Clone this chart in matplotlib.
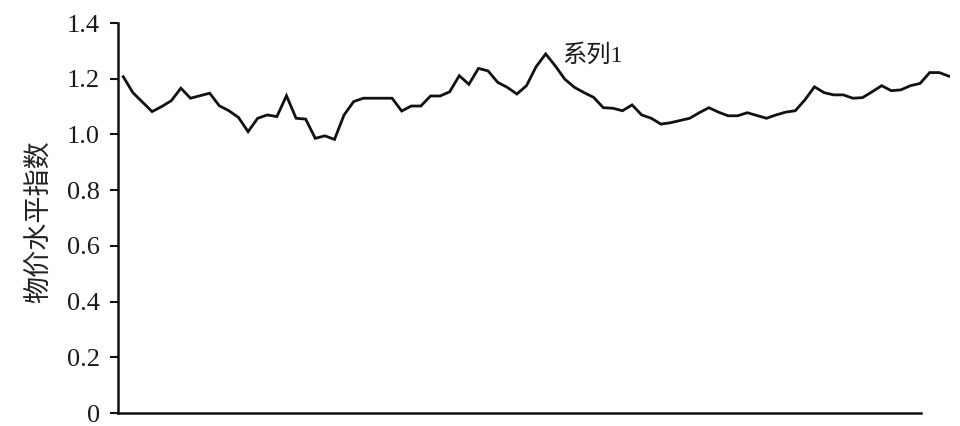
import matplotlib
matplotlib.use("Agg")
import matplotlib.pyplot as plt
import numpy as np

# 物价水平指数，读图估计
series_name = "系列1"
y_label = "物价水平指数"
values = [
    1.207, 1.150, 1.116, 1.082, 1.100, 1.121, 1.166, 1.130, 1.139, 1.148,
    1.103, 1.085, 1.061, 1.010, 1.058, 1.070, 1.064, 1.139, 1.058, 1.055,
    0.986, 0.995, 0.982, 1.070, 1.118, 1.130, 1.130, 1.130, 1.130, 1.084,
    1.102, 1.102, 1.138, 1.138, 1.153, 1.211, 1.180, 1.237, 1.228, 1.187,
    1.169, 1.145, 1.175, 1.243, 1.289, 1.246, 1.198, 1.169, 1.150, 1.133,
    1.096, 1.094, 1.085, 1.106, 1.070, 1.058, 1.037, 1.042, 1.050, 1.058,
    1.078, 1.096, 1.080, 1.067, 1.067, 1.078, 1.068, 1.058, 1.070, 1.080,
    1.085, 1.124, 1.171, 1.150, 1.142, 1.142, 1.130, 1.132, 1.153, 1.175,
    1.157, 1.160, 1.175, 1.183, 1.222, 1.222, 1.209,
]
y_ticks = [0, 0.2, 0.4, 0.6, 0.8, 1.0, 1.2, 1.4]
y_tick_labels = ["0", "0.2", "0.4", "0.6", "0.8", "1.0", "1.2", "1.4"]

x = np.arange(len(values))
serif = ["Liberation Serif", "Noto Sans CJK SC"]

fig = plt.figure(figsize=(9.6, 4.26), dpi=100)
ax = fig.add_axes([118 / 960, 13 / 426, 832 / 960, 390 / 426])

ax.plot(x, values, color="#111111", lw=2.0, solid_joinstyle="miter")
peak = int(np.argmax(values))
ax.annotate(series_name, (x[peak], values[peak]), xytext=(12, -1),
            textcoords="offset points", ha="left", va="center",
            fontsize=17.5, family=serif, color="#1a1a1a")

ax.set_ylim(0, 1.4)
ax.set_xlim(-0.55, -0.55 + 832 / 9.6)
ax.set_yticks(y_ticks)
ax.set_yticklabels(y_tick_labels, family=serif, fontsize=19, color="#1a1a1a")
ax.set_xticks([])
ax.tick_params(axis="y", direction="out", length=6, width=1.5, pad=7, color="#111111")

for s in ["top", "right"]:
    ax.spines[s].set_visible(False)
for s in ["left", "bottom"]:
    ax.spines[s].set_linewidth(1.8)
    ax.spines[s].set_color("#111111")
ax.spines["bottom"].set_bounds(-0.55, -0.55 + 803 / 9.6)

fig.text(39 / 960, 0.479, y_label, rotation=90, ha="center", va="center",
         fontsize=19.5, family=["Noto Sans CJK SC"], color="#222222")

fig.savefig("out.png", dpi=100)
